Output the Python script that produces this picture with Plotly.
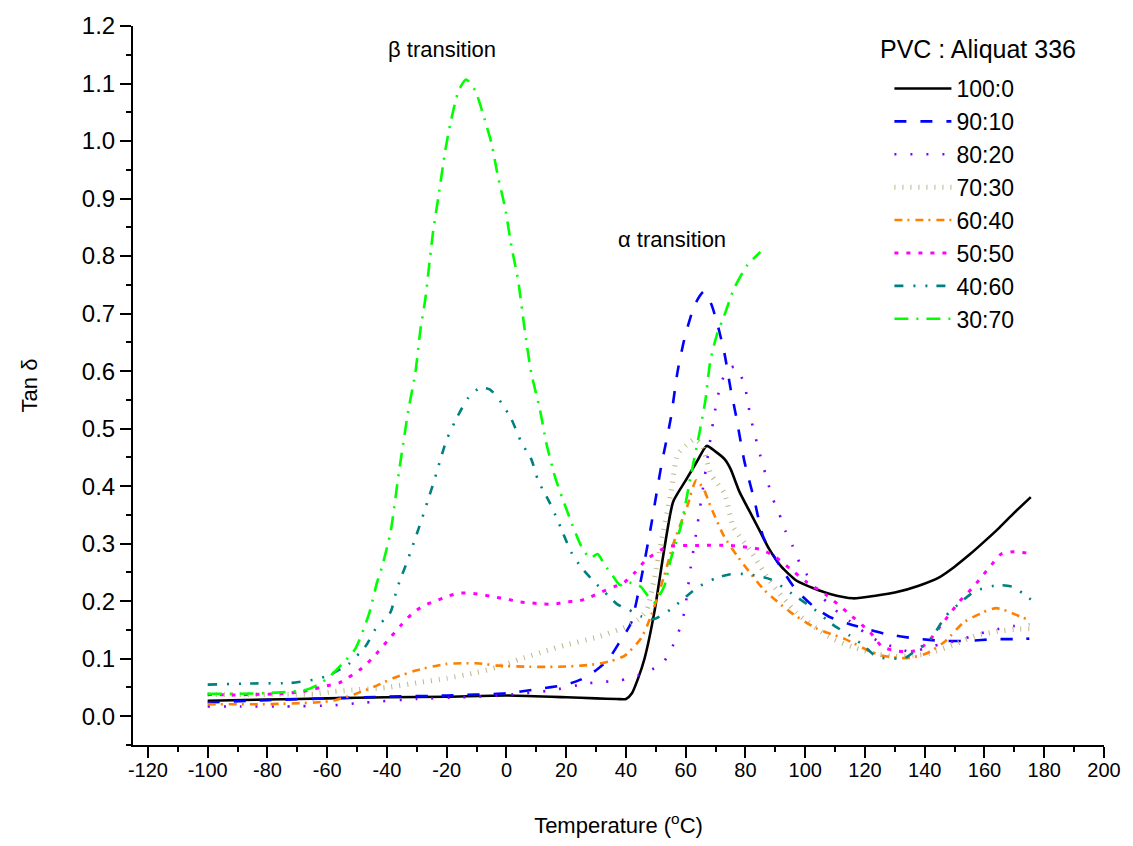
import plotly.graph_objects as go

# ---------------- data ----------------
T_100_0 = [-100, -80, -60, -40, -20, 0, 20, 30, 37, 40, 42, 44, 46.2, 49.5, 52.8, 55.8, 60, 64, 67, 70, 73, 75, 78, 82, 85, 88, 92, 97, 103, 108, 116, 124, 130, 138, 145, 150, 155, 160, 165, 170, 175.5]
Y_100_0 = [0.027, 0.029, 0.031, 0.033, 0.034, 0.036, 0.033, 0.031, 0.03, 0.03, 0.04, 0.065, 0.1, 0.181, 0.29, 0.373, 0.41, 0.445, 0.47, 0.46, 0.447, 0.43, 0.39, 0.35, 0.32, 0.29, 0.26, 0.236, 0.222, 0.213, 0.205, 0.21, 0.215, 0.227, 0.242, 0.26, 0.281, 0.304, 0.328, 0.354, 0.381]

T_90_10 = [-100, -80, -60, -40, -20, 0, 10, 20, 25, 30, 34, 38, 41.7, 45, 48.3, 51.7, 55, 57.3, 59.6, 63, 66, 68.5, 70.7, 73, 75, 77, 79.6, 83, 86, 91.7, 97, 103, 108, 115, 121.7, 127, 137, 146, 155, 163, 172, 175]
Y_90_10 = [0.024, 0.028, 0.031, 0.034, 0.036, 0.04, 0.047, 0.055, 0.064, 0.08, 0.098, 0.13, 0.162, 0.237, 0.328, 0.432, 0.518, 0.6, 0.657, 0.715, 0.738, 0.717, 0.68, 0.63, 0.57, 0.518, 0.444, 0.375, 0.311, 0.26, 0.219, 0.19, 0.173, 0.16, 0.15, 0.143, 0.135, 0.131, 0.131, 0.134, 0.134, 0.135]

T_80_20 = [-100, -89, -74, -58, -47, -30, -15, 0, 15, 27, 33, 38, 44, 48, 52, 55, 57.5, 59.5, 61.7, 64, 66.3, 69.6, 71.7, 74, 76.7, 79.6, 81.7, 84.6, 87.3, 89, 91.3, 93.3, 95.7, 98, 100.7, 104, 110, 115, 120, 125, 130, 135, 139.5, 145, 150.6, 155, 160, 165, 170, 175]
Y_80_20 = [0.017, 0.017, 0.017, 0.019, 0.024, 0.03, 0.033, 0.037, 0.045, 0.057, 0.06, 0.062, 0.071, 0.08, 0.09, 0.115, 0.145, 0.18, 0.26, 0.335, 0.415, 0.525, 0.577, 0.603, 0.608, 0.577, 0.52, 0.46, 0.41, 0.38, 0.352, 0.323, 0.297, 0.268, 0.245, 0.216, 0.185, 0.165, 0.145, 0.129, 0.12, 0.112, 0.117, 0.125, 0.131, 0.138, 0.146, 0.152, 0.157, 0.16]

T_70_30 = [-100, -80, -64, -58, -53, -40, -30, -20, -10, -2.7, 5, 14, 20, 30.7, 39.6, 44, 47, 49.5, 51.7, 55, 57.3, 61, 63, 65.5, 68.5, 73, 76, 81.7, 88, 97, 108, 116, 124, 130, 136, 142, 150, 157, 165, 170, 175]
Y_70_30 = [0.038, 0.038, 0.039, 0.043, 0.045, 0.05, 0.058, 0.066, 0.076, 0.086, 0.1, 0.115, 0.124, 0.138, 0.155, 0.168, 0.185, 0.24, 0.3, 0.387, 0.455, 0.475, 0.482, 0.47, 0.42, 0.387, 0.328, 0.288, 0.236, 0.18, 0.138, 0.12, 0.108, 0.104, 0.105, 0.11, 0.125, 0.14, 0.148, 0.151, 0.152]

T_60_40 = [-100, -80, -64, -58, -52, -44, -38, -30, -20, -10, -2.7, 8, 17, 25, 30.6, 35, 39.5, 45, 48, 52.8, 56, 60.5, 63.5, 66, 68.3, 72.8, 77.2, 86, 95, 104, 113, 122, 126, 134, 140.6, 147, 153, 160.6, 164, 167.5, 173, 175]
Y_60_40 = [0.021, 0.021, 0.024, 0.027, 0.036, 0.052, 0.066, 0.08, 0.091, 0.092, 0.088, 0.086, 0.086, 0.088, 0.091, 0.096, 0.105, 0.135, 0.169, 0.244, 0.302, 0.365, 0.41, 0.395, 0.365, 0.313, 0.279, 0.221, 0.181, 0.152, 0.135, 0.112, 0.105, 0.101, 0.109, 0.131, 0.163, 0.183, 0.188, 0.183, 0.171, 0.168]

T_50_50 = [-100, -92, -84, -76, -68, -60, -56, -48.5, -44.5, -40, -35, -31.6, -27.8, -23.9, -19.5, -15.5, -11.8, -7.9, -3.9, 0, 4, 8.3, 12.3, 16.3, 20, 24, 28, 31.8, 36, 39.5, 43, 47, 54, 64, 75, 85, 89.5, 95, 100.6, 107.3, 114, 121.7, 125.7, 130, 134.6, 138, 141.7, 145, 148.4, 151.7, 155.6, 159, 162.3, 165.6, 169.6, 174]
Y_50_50 = [0.038, 0.037, 0.038, 0.039, 0.043, 0.053, 0.058, 0.083, 0.103, 0.13, 0.16, 0.178, 0.192, 0.2, 0.209, 0.214, 0.214, 0.211, 0.207, 0.204, 0.199, 0.197, 0.195, 0.195, 0.199, 0.2, 0.207, 0.216, 0.225, 0.233, 0.25, 0.273, 0.295, 0.297, 0.297, 0.29, 0.279, 0.256, 0.233, 0.21, 0.181, 0.146, 0.121, 0.114, 0.112, 0.116, 0.133, 0.155, 0.178, 0.2, 0.221, 0.242, 0.263, 0.282, 0.286, 0.284]

T_40_60 = [-100, -85, -72, -64, -59.6, -53, -47, -43.8, -38.8, -36.7, -33.3, -28.7, -24.4, -20, -16, -12.7, -8.8, -5.5, -1.7, 1.7, 5, 8.3, 10.6, 14.6, 17.2, 21.7, 25, 29.5, 32.8, 37, 41, 45, 49.5, 55, 64, 70, 75, 80.6, 88.4, 95, 103, 109, 115, 119.5, 124, 129.6, 134, 137, 141.6, 147, 152, 157, 164.6, 169.6, 173, 177]
Y_40_60 = [0.055, 0.057, 0.058, 0.064, 0.071, 0.09, 0.123, 0.152, 0.181, 0.221, 0.268, 0.337, 0.406, 0.481, 0.525, 0.554, 0.571, 0.568, 0.545, 0.516, 0.476, 0.447, 0.41, 0.37, 0.34, 0.285, 0.259, 0.233, 0.216, 0.195, 0.185, 0.174, 0.169, 0.186, 0.224, 0.24, 0.247, 0.247, 0.238, 0.215, 0.186, 0.16, 0.14, 0.123, 0.103, 0.1, 0.103, 0.115, 0.131, 0.174, 0.198, 0.218, 0.228, 0.225, 0.213, 0.197]

T_30_70 = [-100, -89, -77, -67, -63, -59.4, -55, -50.6, -46, -43.3, -41.7, -38.8, -36, -32.8, -30.5, -28.8, -27.2, -24.5, -22.8, -20.5, -18.8, -16, -13.5, -10.5, -7.2, -5, -2.8, -0.5, 1.7, 3.9, 6.1, 8.3, 11.2, 13.3, 16.2, 20.5, 25, 28, 30.5, 33, 35.6, 38, 40.5, 43, 45, 47.2, 49.5, 52.8, 55, 58.4, 61.7, 64.6, 66.6, 68.3, 70.6, 72.8, 76.2, 80.6, 85]
Y_30_70 = [0.039, 0.039, 0.041, 0.046, 0.055, 0.068, 0.091, 0.117, 0.178, 0.233, 0.259, 0.32, 0.424, 0.533, 0.597, 0.672, 0.724, 0.845, 0.902, 0.983, 1.03, 1.088, 1.107, 1.088, 1.036, 0.996, 0.937, 0.885, 0.816, 0.758, 0.672, 0.597, 0.533, 0.476, 0.417, 0.354, 0.296, 0.275, 0.282, 0.262, 0.244, 0.228, 0.233, 0.23, 0.225, 0.21, 0.198, 0.226, 0.273, 0.331, 0.418, 0.493, 0.55, 0.62, 0.666, 0.695, 0.744, 0.784, 0.807]

SERIES_NAMES = ["100:0", "90:10", "80:20", "70:30", "60:40", "50:50", "40:60", "30:70"]

X_TICK_VALUES = [-120, -100, -80, -60, -40, -20, 0, 20, 40, 60, 80, 100, 120, 140, 160, 180, 200]
X_TICK_LABELS = ["-120", "-100", "-80", "-60", "-40", "-20", "0", "20", "40", "60", "80", "100", "120", "140", "160", "180", "200"]
Y_TICK_VALUES = [0.0, 0.1, 0.2, 0.3, 0.4, 0.5, 0.6, 0.7, 0.8, 0.9, 1.0, 1.1, 1.2]
Y_TICK_LABELS = ["0.0", "0.1", "0.2", "0.3", "0.4", "0.5", "0.6", "0.7", "0.8", "0.9", "1.0", "1.1", "1.2"]

# ---------------- styles ----------------
FONT = "Arial, 'Liberation Sans', sans-serif"
styles = [
    dict(color="#000000", dash="solid", width=2.6),
    dict(color="#0000FF", dash="12px,14px", width=2.6),
    dict(color="#8000FF", dash="2px,14px", width=2.6),
    dict(color="#BDB68A", dash="1px,7px", width=5),
    dict(color="#FF8000", dash="8px,5px,2px,6px", width=2.6),
    dict(color="#FF00FF", dash="4px,8px", width=3),
    dict(color="#008080", dash="9px,10px,2px,10px,2px,9px", width=2.6),
    dict(color="#00FF00", dash="14px,8px,2px,8px", width=2.6),
]

xs = [T_100_0, T_90_10, T_80_20, T_70_30, T_60_40, T_50_50, T_40_60, T_30_70]
ys = [Y_100_0, Y_90_10, Y_80_20, Y_70_30, Y_60_40, Y_50_50, Y_40_60, Y_30_70]

fig = go.Figure()
for name, x, y, st in zip(SERIES_NAMES, xs, ys, styles):
    fig.add_trace(go.Scatter(
        x=x, y=y, name=name, mode="lines",
        line=dict(color=st["color"], dash=st["dash"], width=st["width"],
                  shape="spline", smoothing=0.6),
    ))

plot_w = 1133 - 133 - 25
plot_h = 846 - 25 - 99

fig.update_layout(
    width=1133, height=846,
    margin=dict(l=133, r=25, t=25, b=99),
    paper_bgcolor="white", plot_bgcolor="white",
    font=dict(family=FONT, color="black"),
    showlegend=True,
    legend=dict(
        x=0.779, y=0.943, xanchor="left", yanchor="top",
        font=dict(family=FONT, size=23, color="black"),
        itemwidth=57, traceorder="normal",
        bgcolor="rgba(0,0,0,0)", borderwidth=0,
    ),
    xaxis=dict(
        range=[-125, 200], showgrid=False, zeroline=False,
        showline=True, linecolor="black", linewidth=2,
        ticks="outside", ticklen=11, tickwidth=2, tickcolor="black",
        tickmode="array", tickvals=X_TICK_VALUES, ticktext=X_TICK_LABELS,
        tickfont=dict(family=FONT, size=20, color="black"),
        ticklabelstandoff=-5,
        minor=dict(tickmode="linear", tick0=-120, dtick=10, ticks="outside",
                   ticklen=5, tickwidth=2, tickcolor="black"),
        title=dict(text="Temperature (<sup>o</sup>C)", standoff=38,
                   font=dict(family=FONT, size=22, color="black")),
    ),
    yaxis=dict(
        range=[-0.05, 1.2], showgrid=False, zeroline=False,
        showline=True, linecolor="black", linewidth=2,
        ticks="outside", ticklen=11, tickwidth=2, tickcolor="black",
        tickmode="array", tickvals=Y_TICK_VALUES, ticktext=Y_TICK_LABELS,
        tickfont=dict(family=FONT, size=24, color="black"),
        minor=dict(tickmode="linear", tick0=0, dtick=0.05, ticks="outside",
                   ticklen=5, tickwidth=2, tickcolor="black"),
        title=dict(text="Tan δ", standoff=38,
                   font=dict(family=FONT, size=22, color="black")),
    ),
    annotations=[
        dict(text="PVC : Aliquat 336", x=(881 - 133) / plot_w, y=1 - (48 - 25) / plot_h,
             xref="paper", yref="paper", xanchor="left", yanchor="middle",
             showarrow=False, font=dict(family=FONT, size=25, color="black")),
        dict(text="β transition", x=-21.5, y=1.16, xref="x", yref="y",
             showarrow=False, font=dict(family=FONT, size=22, color="black")),
        dict(text="α transition", x=55.5, y=0.829, xref="x", yref="y",
             showarrow=False, font=dict(family=FONT, size=22, color="black")),
    ],
)

fig.write_html("out.html")
